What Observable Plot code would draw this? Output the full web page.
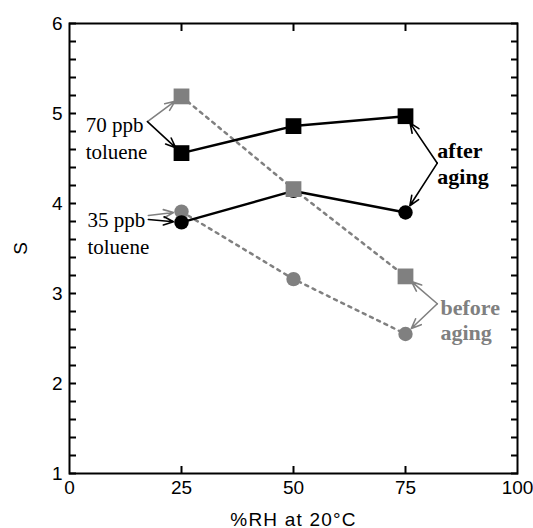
<!DOCTYPE html>
<html><head><meta charset="utf-8">
<script src="https://cdn.jsdelivr.net/npm/d3@7"></script>
<script src="https://cdn.jsdelivr.net/npm/@observablehq/plot@0.6"></script>
<style>body{margin:0;background:#fff}</style>
</head><body><div id="chart"></div>
<script>
// ---- data ----
const rh = [25, 50, 75];
const after70 = [4.56, 4.86, 4.97];
const after35 = [3.79, 4.14, 3.90];
const before70 = [5.19, 4.16, 3.19];
const before35 = [3.91, 3.16, 2.55];

const xTickLabels = [0, 25, 50, 75, 100];
const xTicks = [25, 50, 75];
const yMajor = [1, 2, 3, 4, 5, 6];
const yAllTicks = [1, 1.2, 1.4, 1.6, 1.8, 2, 2.2, 2.4, 2.6, 2.8, 3, 3.2, 3.4, 3.6, 3.8, 4, 4.2, 4.4, 4.6, 4.8, 5, 5.2, 5.4, 5.6, 5.8, 6];

// annotations (data units)
const noteText = ["70 ppb\ntoluene", "35 ppb\ntoluene", "after\naging", "before\naging"];
const noteX = [3.6, 4.0, 82.1, 82.8];
const noteY = [4.74, 3.683, 4.45, 2.711];
const noteGroup = ["after", "after", "after", "before"];
const noteBold = [false, false, true, true];

const arrowX1 = [17.4, 17.4, 17.6, 17.6, 82.1, 82.1, 82.1, 82.1];
const arrowY1 = [4.91, 4.91, 3.867, 3.822, 4.448, 4.448, 2.886, 2.886];
const arrowX2 = [25, 25, 25, 25, 75, 75, 75, 75];
const arrowY2 = [5.19, 4.56, 3.91, 3.79, 4.97, 3.90, 3.19, 2.55];
const arrowGroup = ["before", "after", "before", "after", "after", "after", "before", "before"];

// ---- build ----
const GRAY = "#808080";
const col = g => g === "before" ? GRAY : "#000";
const rows = vals => rh.map((x, i) => ({x, y: vals[i]}));
const notes = noteText.map((t, i) => ({t, x: noteX[i], y: noteY[i], g: noteGroup[i], b: noteBold[i]}));
const arrows = arrowX1.map((_, i) => ({x1: arrowX1[i], y1: arrowY1[i], x2: arrowX2[i], y2: arrowY2[i], g: arrowGroup[i]}));
const blank = () => "";
const plain = d => String(d);

const chart = Plot.plot({
  width: 533, height: 528,
  marginLeft: 69, marginRight: 16, marginTop: 23, marginBottom: 55,
  x: {domain: [0, 100]},
  y: {domain: [1, 6]},
  style: {fontFamily: "'Liberation Sans', Arial, sans-serif", background: "white", color: "black"},
  marks: [
    // ticks (inward)
    Plot.axisY(yAllTicks, {anchor: "left", tickSize: -7, strokeWidth: 2, tickFormat: blank, label: null}),
    Plot.axisY(yAllTicks, {anchor: "right", tickSize: -7, strokeWidth: 2, tickFormat: blank, label: null}),
    Plot.axisX(xTicks, {anchor: "bottom", tickSize: -7, strokeWidth: 2, tickFormat: blank, label: null}),
    Plot.axisX(xTicks, {anchor: "top", tickSize: -7, strokeWidth: 2, tickFormat: blank, label: null}),
    // labels
    Plot.axisY(yMajor, {anchor: "left", tickSize: 0, tickPadding: 7, fontSize: 19, tickFormat: plain, label: "S", labelArrow: "none", labelAnchor: "center", labelOffset: 56}),
    Plot.axisX(xTickLabels, {anchor: "bottom", tickSize: 0, tickPadding: 7, fontSize: 19, tickFormat: plain, label: "%RH at 20°C", labelArrow: "none", labelAnchor: "center"}),
    Plot.frame({strokeWidth: 2}),
    // lines
    Plot.line(rows(before70), {x: "x", y: "y", stroke: GRAY, strokeWidth: 2.5, strokeDasharray: "3,5"}),
    Plot.line(rows(before35), {x: "x", y: "y", stroke: GRAY, strokeWidth: 2.5, strokeDasharray: "3,5"}),
    Plot.line(rows(after70), {x: "x", y: "y", stroke: "#000", strokeWidth: 2.5}),
    Plot.line(rows(after35), {x: "x", y: "y", stroke: "#000", strokeWidth: 2.5}),
    // markers
    Plot.dot(rows(before35), {x: "x", y: "y", r: 7.2, fill: GRAY, symbol: "circle"}),
    Plot.dot(rows(after35), {x: "x", y: "y", r: 7.2, fill: "#000", symbol: "circle"}),
    Plot.dot(rows(before70), {x: "x", y: "y", r: 8.9, fill: GRAY, symbol: "square"}),
    Plot.dot(rows(after70), {x: "x", y: "y", r: 8.9, fill: "#000", symbol: "square"}),
    // arrows
    Plot.arrow(arrows, {x1: "x1", y1: "y1", x2: "x2", y2: "y2", stroke: d => col(d.g), strokeWidth: 1.6, headLength: 10, headAngle: 45, insetEnd: 8}),
    // annotation text
    Plot.text(notes.filter(d => !d.b), {x: "x", y: "y", text: "t", textAnchor: "start", lineAnchor: "middle", lineHeight: 1.29, fontFamily: "'Liberation Serif', 'Times New Roman', serif", fontSize: 21, fill: d => col(d.g)}),
    Plot.text(notes.filter(d => d.b), {x: "x", y: "y", text: "t", textAnchor: "start", lineAnchor: "middle", lineHeight: 1.15, fontFamily: "'Liberation Serif', 'Times New Roman', serif", fontSize: 22, fontWeight: "bold", fill: d => col(d.g)})
  ]
});
d3.select(chart).selectAll("text").filter(function() { return this.textContent === "%RH at 20°C"; }).attr("letter-spacing", "1.2px");
document.getElementById("chart").appendChild(chart);
</script>
</body></html>
